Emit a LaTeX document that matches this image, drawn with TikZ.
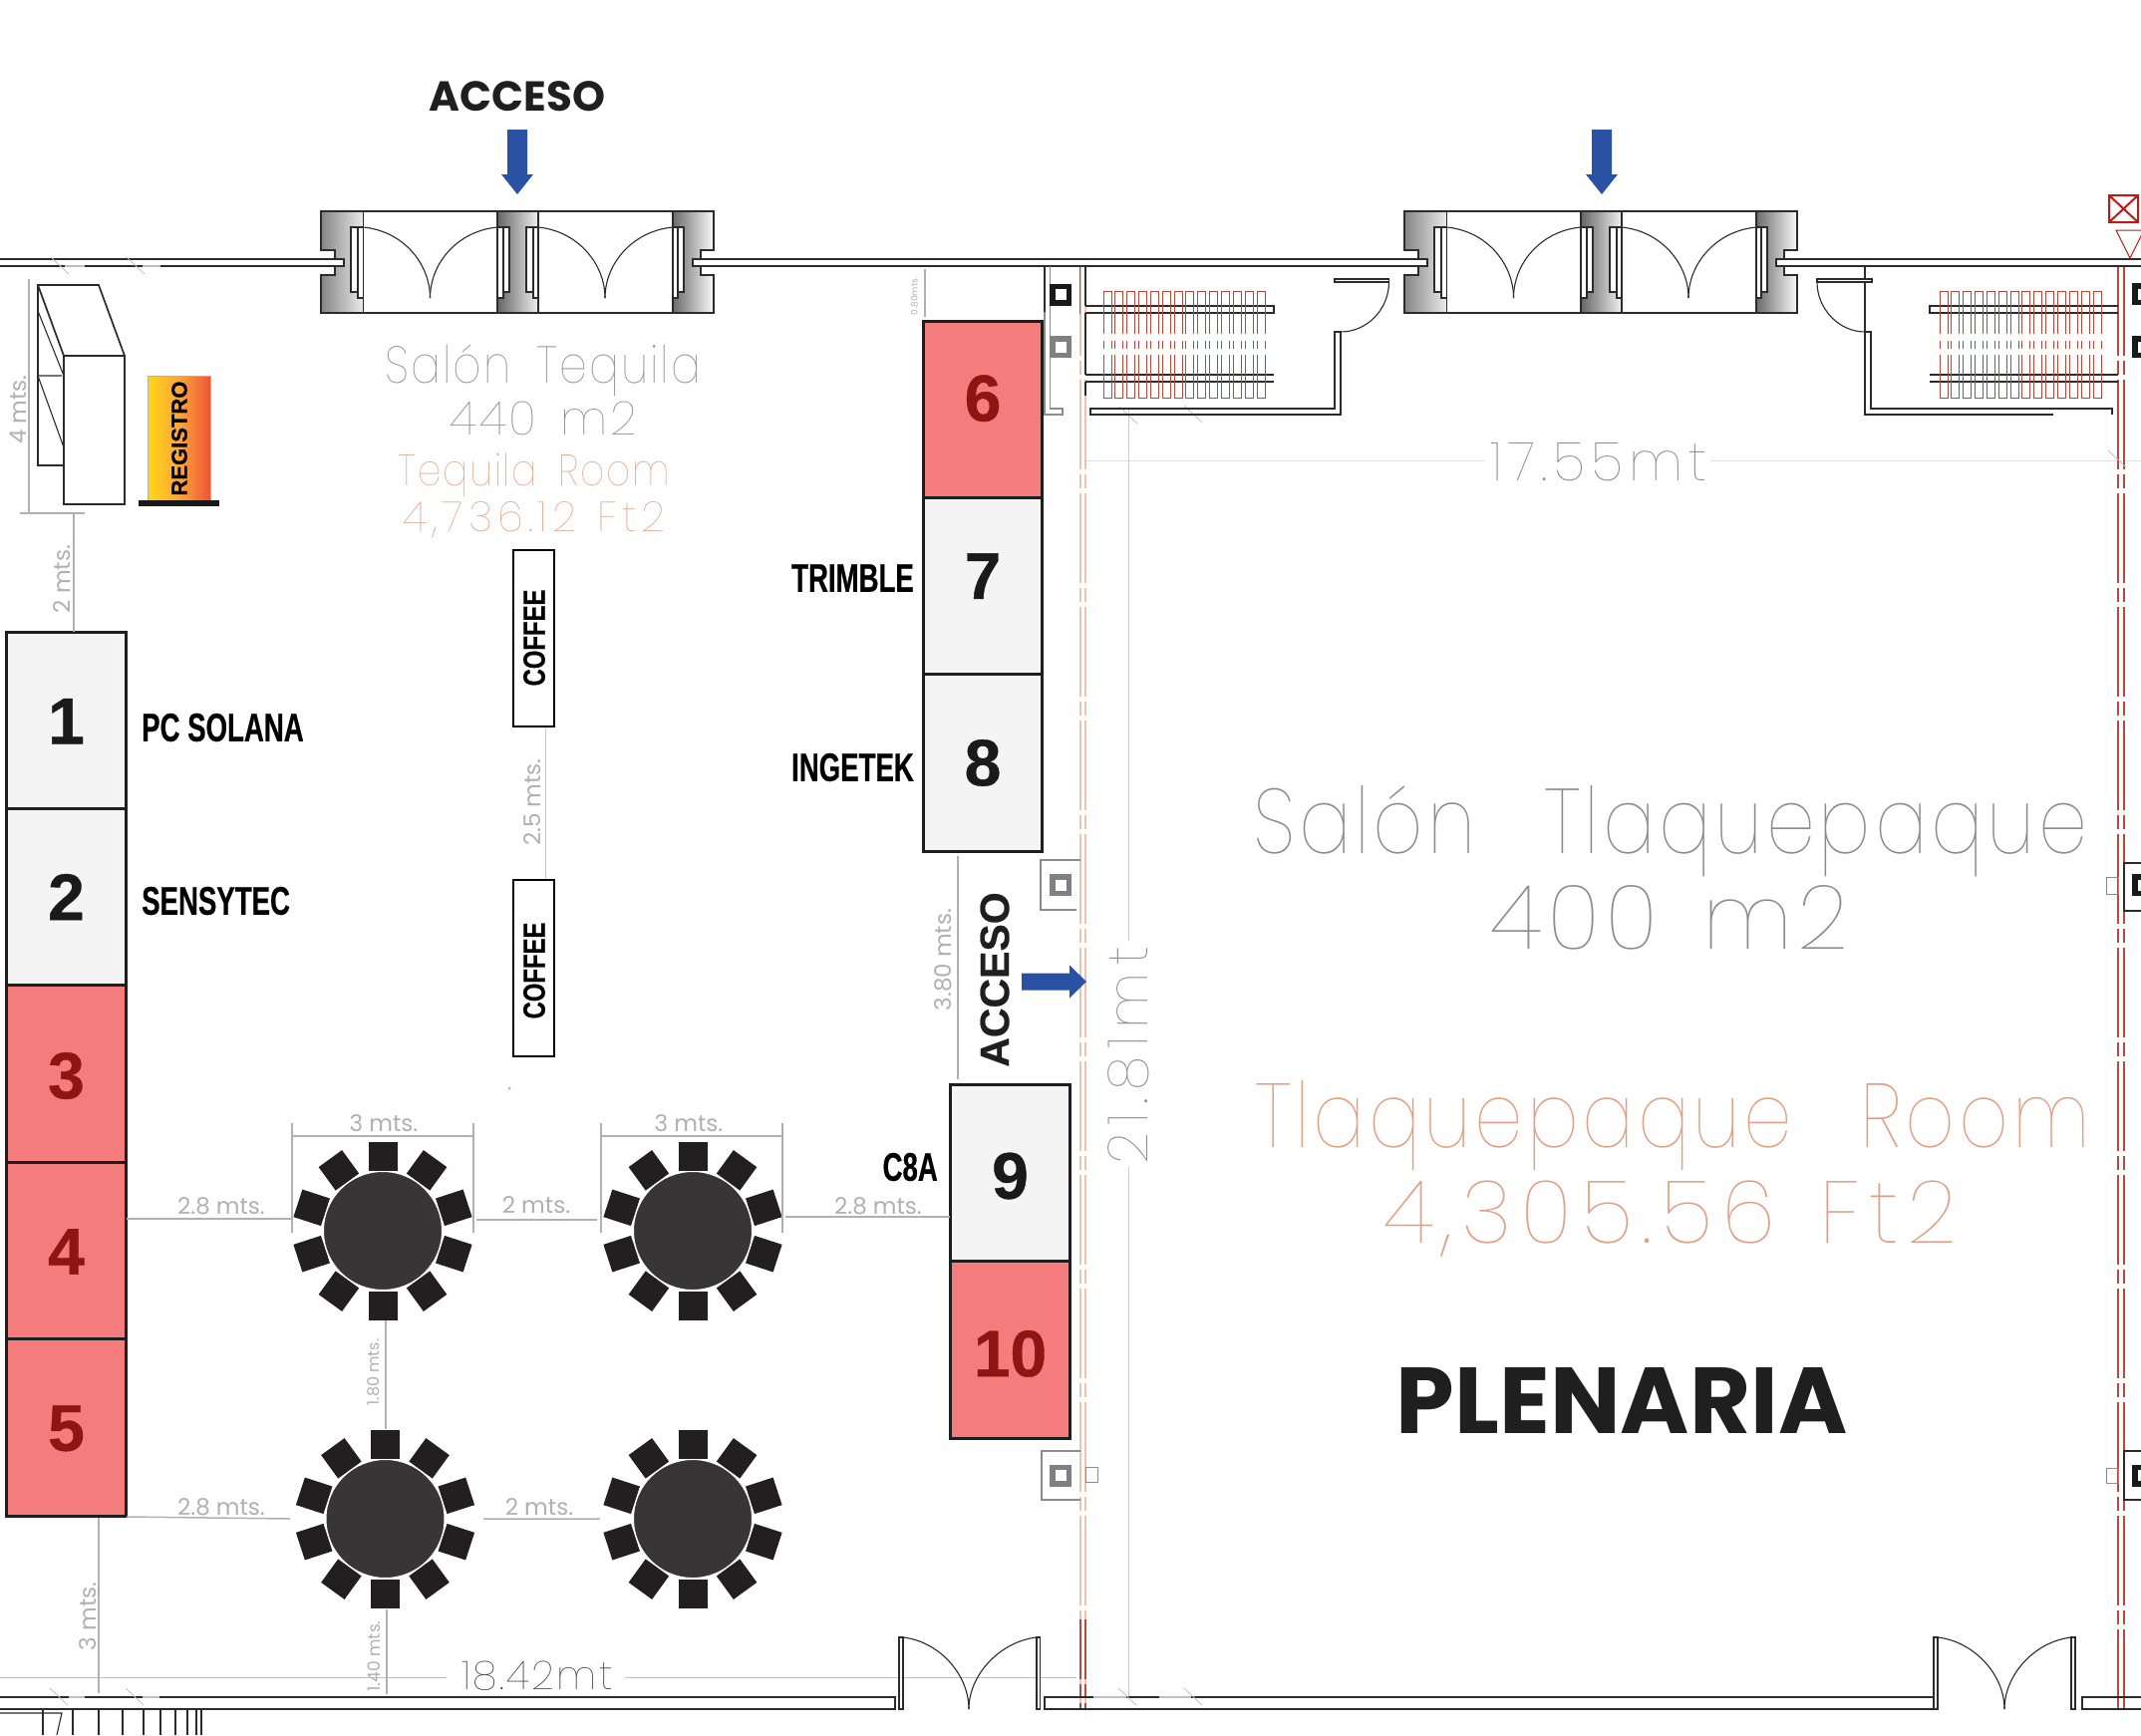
\documentclass[tikz,border=0pt]{standalone}
\usepackage{fontspec}
\usetikzlibrary{positioning,calc}
\setmainfont{Poppins}
\newfontfamily\cadfont[FakeStretch=0.85, LetterSpace=4]{Poppins Thin}
\newfontfamily\cadnum[LetterSpace=6]{Poppins Thin}
\newfontfamily\armfont{Liberation Sans}
\newfontfamily\heavyfont[BoldFeatures={FakeBold=0.6}]{Liberation Sans}
\newfontfamily\narrowfont[FakeStretch=0.69, BoldFeatures={FakeBold=0.5}]{Liberation Sans}
\newfontfamily\coffeefont[FakeStretch=0.77, BoldFeatures={FakeBold=0.5}]{Liberation Sans}
\newcommand{\wgap}{\hspace{.5em}}
\newcommand{\widegap}{\hspace{.75em}}

\definecolor{salmonfill}{HTML}{F47C7C}
\definecolor{palefill}{HTML}{F4F4F4}
\definecolor{darkred}{HTML}{8F1414}
\definecolor{dimgray}{HTML}{B0B0B0}
\definecolor{roomgray}{HTML}{8C8C8C}
\definecolor{roomsalmon}{HTML}{E0A088}
\definecolor{redline}{HTML}{B9483C}
\definecolor{paleline}{HTML}{EBC4AE}
\definecolor{accessblue}{HTML}{2A52A4}
\definecolor{inkline}{HTML}{2B2B2B}
\definecolor{tablefill}{HTML}{373535}
\definecolor{chairfill}{HTML}{231F20}
\definecolor{signyellow}{HTML}{FFD814}
\definecolor{signorange}{HTML}{FBA53B}
\definecolor{signred}{HTML}{EE5533}

\tikzstyle {standbox} = [draw=inkline!70!black, line width=3pt, minimum width=119.5pt, minimum height=177.4pt, inner sep=0pt, outer sep=0pt]
\tikzstyle {standgray} = [standbox, fill=palefill]
\tikzstyle {standred} = [standbox, fill=salmonfill]
\tikzstyle {digit} = [inner sep=0pt, text=inkline!60!black, font=\heavyfont\bfseries\fontsize{66}{66}\selectfont]
\tikzstyle {digitred} = [digit, text=darkred]
\tikzstyle {brand} = [font=\narrowfont\bfseries\fontsize{40}{40}\selectfont, text=black, inner sep=0pt]
\tikzstyle {coffeebox} = [draw=black, fill=white, line width=2pt, minimum width=41pt, minimum height=177pt, inner sep=0pt]
\tikzstyle {coffeetext} = [rotate=90, font=\coffeefont\bfseries\fontsize{31}{31}\selectfont, text=black, inner sep=0pt]
\tikzstyle {dimline} = [draw=dimgray, line width=1.5pt]
\tikzstyle {dimtext} = [text=dimgray, inner sep=0pt, font=\fontsize{23}{23}\selectfont]
\tikzstyle {wallline} = [draw=inkline, line width=1.7pt]
\tikzstyle {thinline} = [draw=inkline, line width=1.1pt]
\tikzstyle {roomtext} = [anchor=base, inner sep=0pt, text=roomgray]
\tikzstyle {roompink} = [anchor=base, inner sep=0pt, text=roomsalmon]
\tikzstyle {tabletop} = [circle, fill=tablefill, draw=white, line width=1pt, minimum size=119pt, inner sep=0pt]
\tikzstyle {chair} = [fill=chairfill, minimum size=29pt, inner sep=0pt]
\tikzstyle {pillarbox} = [minimum size=22pt, inner sep=0pt]
\tikzstyle {pillarhole} = [fill=white, minimum size=11pt, inner sep=0pt]
\tikzstyle {seat} = [draw=redline, line width=1pt]
\tikzstyle {tick} = [draw=black!25, line width=.8pt]

\newcommand{\doublegate}[1]{
    \begin{scope}[xshift=#1]
        \shade [left color=black!48, right color=black!8, draw=inkline, line width=1.2pt] (322,212) -- (364.5,212) -- (364.5,314) -- (322,314) -- (322,276) -- (336,276) -- (336,267) -- (345,267) -- (345,260) -- (336,260) -- (336,251) -- (322,251) -- cycle;
        \shade [left color=black!60, right color=black!6, draw=inkline, line width=1.2pt] (499,212) -- (540,212) -- (540,314) -- (499,314) -- cycle;
        \shade [left color=black!58, right color=black!2, draw=inkline, line width=1.2pt] (675,212) -- (716,212) -- (716,251) -- (703,251) -- (703,260) -- (695,260) -- (695,267) -- (703,267) -- (703,276) -- (716,276) -- (716,314) -- (675,314) -- cycle;
        \draw [thinline] (364.5,212) -- (499,212) (364.5,314) -- (499,314) (540,212) -- (675,212) (540,314) -- (675,314);
        \filldraw [thinline, fill=white] (364.5,228) -- (352,228) -- (352,293) -- (359,293) -- (359,299) -- (364.5,299) -- cycle;
        \filldraw [thinline, fill=white] (499,228) -- (511,228) -- (511,293) -- (505,293) -- (505,299) -- (499,299) -- cycle;
        \filldraw [thinline, fill=white] (540,228) -- (528,228) -- (528,293) -- (535,293) -- (535,299) -- (540,299) -- cycle;
        \filldraw [thinline, fill=white] (675,228) -- (686,228) -- (686,293) -- (680,293) -- (680,299) -- (675,299) -- cycle;
        \draw [thinline] (359,228) -- (359,293) (505,228) -- (505,293) (535,228) -- (535,293) (680,228) -- (680,293);
        \draw [thinline] (364.5,228) .. controls (405,232) and (431.5,265) .. (431.5,299);
        \draw [thinline] (499,228) .. controls (458,232) and (431.5,265) .. (431.5,299);
        \draw [thinline] (540,228) .. controls (580,232) and (607,265) .. (607,299);
        \draw [thinline] (675,228) .. controls (634,232) and (607,265) .. (607,299);
    \end{scope}
}
\newcommand{\swingdoors}[5]{
    \filldraw [thinline, fill=white] (#1,1643) rectangle (#2,1715);
    \filldraw [thinline, fill=white] (#4,1643) rectangle (#5,1715);
    \draw [thinline] (#2,1643) .. controls (#2+36,1647) and (#3,1680) .. (#3,1715);
    \draw [thinline] (#4,1643) .. controls (#4-36,1647) and (#3,1680) .. (#3,1715);
}
\newcommand{\seatrows}[1]{
    \foreach \i in {0,...,13} {
        \begin{scope}[xshift=#1+\i*11.85pt]
            \draw [seat] (0,335) -- (0,292) -- (8,292) -- (8,335);
            \draw [seat] (0,342) -- (0,350) (8,342) -- (8,350);
            \draw [seat] (0,356) -- (0,399) -- (8,399) -- (8,356);
        \end{scope}
    }
}
\newcommand{\roundtable}[2]{
    \foreach \a in {90,54,18,-18,-54,-90,-126,-162,162,126} {
        \node [chair, rotate=\a] (#1c\a) at ($(#2)+(\a:75pt)$) {};
    }
    \node [tabletop] (#1) at (#2) {};
}
\newcommand{\pillar}[3]{
    \node [pillarbox, fill=#3] (#1) at (#2) {};
    \node [pillarhole] (#1h) at (#1) {};
}

\begin{document}
\begin{tikzpicture}[x=1pt, y=-1pt]
    \useasboundingbox (0,0) rectangle (2148,1741);

    % room dimensions
    \draw [draw=black!12, line width=1pt] (1089,462) -- (1490,462) (1716,462) -- (2148,462);
    \draw [draw=black!20, line width=1pt] (1132,410) -- (1132,944) (1132,1171) -- (1132,1703);
    \draw [draw=black!25, line width=1pt] (0,1683) -- (448,1683) (627,1683) -- (1080,1683);

    % partitions
    \foreach \wx in {1084,1089} {
        \draw [draw=paleline, line width=1.5pt, dash pattern=on 90pt off 5pt on 14pt off 5pt] (\wx,267) -- (\wx,1715);
        \draw [draw=redline, line width=1.1pt, dash pattern=on 60pt off 5pt on 14pt off 5pt] (\wx,1625) -- (\wx,1715);
    }
    \draw [draw=redline, line width=1.3pt] (1083.5,267) -- (1083.5,315);
    \foreach \wx in {2125,2131} {
        \draw [draw=redline, line width=1.4pt, dash pattern=on 90pt off 5pt on 14pt off 5pt] (\wx,267) -- (\wx,1715);
    }

    % walls
    \draw [wallline] (0,260) -- (345,260) (0,267) -- (345,267);
    \draw [wallline] (695,260) -- (1432,260) (695,267) -- (1432,267);
    \draw [wallline] (1782,260) -- (2148,260) (1782,267) -- (2148,267);
    \doublegate{0}
    \doublegate{1087}
    \draw [wallline] (0,1703) -- (898,1703) -- (898,1715) -- (0,1715);
    \draw [wallline] (2148,1703) -- (2089,1703) -- (2089,1715) -- (2148,1715);
    \draw [wallline] (1939,1703) -- (1048,1703) -- (1048,1715) -- (1939,1715);
    \swingdoors{902}{906}{972}{1040}{1043.5}
    \swingdoors{1940}{1944}{2011}{2078}{2082}
    \foreach \sx in {43,73,99,123,144,161,176,188,197,202} {
        \draw [thinline] (\sx,1715) -- (\sx,1741);
    }
    \draw [thinline] (0,1719) -- (62,1719) -- (57,1741);

    % wall breaks
    \foreach \bx/\by in {51/258,127/258,50/1694,126/1694,1123/408,1188/407,1122/1694,1188/1694,2115/452} {
        \draw [tick] (\bx,\by) -- ++(18,17);
    }
    \draw [draw=black!25, line width=1.6pt] (65,267) -- (85,267) (143,267) -- (161,267) (69,1703) -- (85,1703) (143,1703) -- (160,1703) (1101,416) -- (1191,416) (1097,1703) -- (1130,1703) (1163,1703) -- (1195,1703);

    % stairs and closets
    \draw [wallline] (1048,267) -- (1048,313);
    \draw [draw=black!45, line width=1.3pt] (1048,313) -- (1048,416) -- (1066,416) -- (1066,410) -- (1053.5,410) -- (1053.5,267);
    \draw [wallline] (1089,267) -- (1089,307) (1089,314) -- (1089,376) (1089,383) -- (1089,397);
    \draw [wallline] (1089,307) -- (1278,307) -- (1278,314) -- (1089,314);
    \draw [wallline] (1089,376) -- (1278,376) (1089,383) -- (1278,383);
    \draw [wallline] (1094,410) -- (1339,410) -- (1339,333) -- (1345,333) -- (1345,416) -- (1094,416) -- cycle;
    \filldraw [thinline, fill=white] (1339,280) rectangle (1393.5,283);
    \draw [thinline] (1393.5,283) .. controls (1393.5,310) and (1372,333) .. (1345,333);
    \seatrows{1107}
    \draw [wallline] (1871,267) -- (1871,416) -- (2060,416);
    \draw [wallline] (1871,333) -- (1877,333) -- (1877,410) -- (2119,410) -- (2119,416);
    \filldraw [thinline, fill=white] (1823,280) rectangle (1878,283);
    \draw [thinline] (1823,283) .. controls (1823,310) and (1845,333) .. (1871,333);
    \draw [wallline] (2125,307) -- (1936,307) -- (1936,314) -- (2125,314);
    \draw [wallline] (2125,376) -- (1936,376) (2125,383) -- (1936,383);
    \seatrows{1946}

    % columns
    \pillar{colA}{1064,295.5}{black!90}
    \pillar{colB}{1064,348}{black!50}
    \pillar{colC}{1064,888}{black!50}
    \pillar{colD}{1064,1480.5}{black!50}
    \pillar{colE}{2150,295}{black!90}
    \pillar{colF}{2150,348}{black!90}
    \pillar{colG}{2150,888}{black!90}
    \pillar{colH}{2150,1480.5}{black!90}
    \draw [draw=black!45, line width=1.3pt] (1084,863) -- (1044,863) -- (1044,913) -- (1080,913);
    \draw [draw=black!45, line width=1.3pt] (1084,1456) -- (1045,1456) -- (1045,1505) -- (1084,1505);
    \draw [draw=black!45, line width=1pt] (1089,1472) rectangle (1101,1487);
    \draw [wallline] (2148,866) -- (2131,866) -- (2131,914) -- (2148,914);
    \draw [wallline] (2148,1456) -- (2131,1456) -- (2131,1505) -- (2148,1505);
    \draw [draw=black!45, line width=1pt] (2113,880) rectangle (2125,897);
    \draw [draw=black!45, line width=1pt] (2113,1473) rectangle (2125,1488);

    % exit sign
    \draw [draw=red!70!black!90, line width=2pt] (2116,196) rectangle (2145,223) (2116,196) -- (2145,223) (2116,223) -- (2145,196);
    \draw [draw=red!70!black!90, line width=1pt] (2123,231) -- (2151,231) -- (2137,259) -- cycle;

    % stands
    \node [standgray] (stand1) at (66.5,722.7) {};
    \node [standgray, below=0pt of stand1] (stand2) {};
    \node [standred, below=0pt of stand2] (stand3) {};
    \node [standred, below=0pt of stand3] (stand4) {};
    \node [standred, below=0pt of stand4] (stand5) {};
    \node [standred] (stand6) at (986,410.7) {};
    \node [standgray, below=0pt of stand6] (stand7) {};
    \node [standgray, below=0pt of stand7] (stand8) {};
    \node [standgray] (stand9) at (1013.5,1177) {};
    \node [standred, below=0pt of stand9] (stand10) {};

    \node [digit] (num1) at ([yshift=-1pt]stand1) {1};
    \node [digit] (num2) at (stand2) {2};
    \node [digitred] (num3) at ([yshift=-2pt]stand3) {3};
    \node [digitred] (num4) at ([yshift=-1pt]stand4) {4};
    \node [digitred] (num5) at ([yshift=-1pt]stand5) {5};
    \node [digitred] (num6) at ([yshift=11pt]stand6) {6};
    \node [digit] (num7) at ([yshift=10pt]stand7) {7};
    \node [digit] (num8) at (stand8) {8};
    \node [digit] (num9) at ([yshift=-3pt]stand9) {9};
    \node [digitred] (num10) at ([yshift=-4pt]stand10) {10};

    \node [brand, anchor=west] (solana) at (142,730) {PC SOLANA};
    \node [brand, anchor=west] (sensytec) at (142,904) {SENSYTEC};
    \node [brand, anchor=east] (trimble) at (917,580) {TRIMBLE};
    \node [brand, anchor=east] (ingetek) at (917,770) {INGETEK};
    \node [brand, anchor=east] (c8a) at (941,1171) {C8A};

    % closet and registration
    \draw [wallline] (38,286) -- (99,286) -- (125,357) -- (64,357) -- cycle;
    \draw [wallline] (64,357) rectangle (125,506);
    \draw [wallline] (38,286) -- (38,467) -- (64,467);
    \draw [thinline] (38,377) -- (62,377) (38,312) -- (64,377) (38,377) -- (64,449);
    \node [left color=signyellow, right color=signred, middle color=signorange, draw=black!30, line width=.6pt, minimum width=63pt, minimum height=125pt, inner sep=0pt] (registro) at (179.5,439.5) {};
    \node [fill=black!90, minimum width=81.5pt, minimum height=6pt, inner sep=0pt] (registrobase) at (179.7,505) {};
    \node [rotate=90, font=\heavyfont\bfseries\fontsize{22}{22}\selectfont, text=black, inner sep=0pt] (registrotext) at (180,440) {REGISTRO};

    % coffee
    \node [coffeebox] (coffeeA) at (535.5,640.5) {};
    \node [coffeetext] (coffeeAtext) at (536,640) {COFFEE};
    \node [coffeebox] (coffeeB) at (535.5,971) {};
    \node [coffeetext] (coffeeBtext) at (536,974) {COFFEE};
    \draw [dimline, draw=black!22] ([xshift=12pt]coffeeA.south) -- ([xshift=12pt]coffeeB.north);
    \fill [red!40!orange!60] (511,1092) circle (1.5);

    % tables
    \roundtable{tableA}{384,1235}
    \roundtable{tableB}{695,1235}
    \roundtable{tableC}{386.5,1524}
    \roundtable{tableD}{695,1524}

    % measures
    \draw [dimline] (29,280) -- (29,515) (20,515) -- (85,515);
    \draw [dimline] (74,515) -- (74,634);
    \draw [dimline] (293,1127) -- (293,1237) (293,1140) -- (475,1140) (475,1127) -- (475,1237);
    \draw [dimline] (603,1127) -- (603,1237) (603,1140) -- (785,1140) (785,1127) -- (785,1237);
    \draw [dimline] (127,1223) -- (293,1223) (478,1224) -- (599,1224) (788,1221) -- (953,1221);
    \draw [dimline] (127,1522) -- (291,1524) (485,1524) -- (602,1524);
    \draw [dimline] (387,1325) -- (387,1434);
    \draw [dimline] (388,1615) -- (388,1700) (99,1523) -- (99,1699) (961,859) -- (961,1083) (928,270) -- (928,318);

    \node [dimtext, rotate=90] (dimclosetA) at (18.5,411) {4 mts.};
    \node [dimtext, rotate=90] (dimclosetB) at (62,581) {2 mts.};
    \node [dimtext, rotate=90] (dimcoffee) at (534,805) {2.5 mts.};
    \node [dimtext] (dimtableA) at (385,1127) {3 mts.};
    \node [dimtext] (dimtableB) at (691,1127) {3 mts.};
    \node [dimtext] (dimleftA) at (222,1210) {2.8 mts.};
    \node [dimtext] (dimmidA) at (538,1209) {2 mts.};
    \node [dimtext] (dimrightA) at (881,1210) {2.8 mts.};
    \node [dimtext] (dimleftB) at (222,1512) {2.8 mts.};
    \node [dimtext] (dimmidB) at (541,1512) {2 mts.};
    \node [dimtext, rotate=90, font=\fontsize{16}{16}\selectfont] (dimrowA) at (375,1377) {1.80 mts.};
    \node [dimtext, rotate=90, font=\fontsize{17}{17}\selectfont] (dimrowB) at (375.5,1662) {1.40 mts.};
    \node [dimtext, rotate=90] (dimbottom) at (88.5,1622) {3 mts.};
    \node [dimtext, rotate=90] (dimaccess) at (946,963) {3.80 mts.};
    \node [dimtext, rotate=90, font=\fontsize{9}{9}\selectfont] (dimtop) at (917.5,297) {0.80mts.};

    % room names
    \node [roomtext, font=\cadfont\fontsize{52}{52}\selectfont] (tequilaA) at (545,384) {Salón\wgap Tequila};
    \node [roomtext, font=\cadnum\fontsize{47}{47}\selectfont] (tequilaB) at (545,436) {440\wgap m2};
    \node [roompink, font=\cadfont\fontsize{44}{44}\selectfont] (tequilaC) at (536,487) {Tequila\wgap Room};
    \node [roompink, font=\cadnum\fontsize{42}{42}\selectfont\addfontfeature{LetterSpace=12}] (tequilaD) at (536,533) {4,736.12\wgap Ft2};
    \node [roomtext, font=\cadfont\fontsize{92}{92}\selectfont] (tlaqA) at (1676,856) {Salón\widegap Tlaquepaque};
    \node [roomtext, font=\cadnum\fontsize{90}{90}\selectfont] (tlaqB) at (1675,952) {400\wgap m2};
    \node [roompink, font=\cadfont\fontsize{91}{91}\selectfont] (tlaqC) at (1678,1151) {Tlaquepaque\widegap Room};
    \node [roompink, font=\cadnum\fontsize{88}{88}\selectfont\addfontfeature{LetterSpace=10}] (tlaqD) at (1676,1247) {4,305.56\wgap Ft2};
    \node [roomtext, font=\cadnum\fontsize{54}{54}\selectfont\addfontfeature{LetterSpace=11}] (width) at (1604,482) {17.55mt};
    \node [roomtext, anchor=center, rotate=90, font=\cadnum\fontsize{56}{56}\selectfont\addfontfeature{LetterSpace=14}] (height) at (1132,1059) {21.81mt};
    \node [roomtext, text=black!80, font=\cadnum\fontsize{40}{40}\selectfont] (length) at (539,1695) {18.42mt};
    \node [anchor=base, inner sep=0pt, text=black!88, font=\bfseries\fontsize{94}{94}\selectfont] (plenaria) at (1627,1438) {PLENARIA};

    % access
    \node [anchor=base, inner sep=0pt, text=black!88, font=\bfseries\fontsize{42}{42}\selectfont] (accesstop) at (519,111) {ACCESO};
    \node [rotate=90, inner sep=0pt, text=black!88, font=\heavyfont\bfseries\fontsize{41}{41}\selectfont] (accessside) at (998,983) {ACCESO};
    \fill [accessblue] (509,130) -- (529,130) -- (529,175) -- (535,175) -- (519,195) -- (503,175) -- (509,175) -- cycle;
    \fill [accessblue] (1597,130) -- (1617,130) -- (1617,175) -- (1623,175) -- (1607,195) -- (1591,175) -- (1597,175) -- cycle;
    \fill [accessblue] (1025,976.5) -- (1073,976.5) -- (1073,968.5) -- (1090,985) -- (1073,1001.5) -- (1073,993.5) -- (1025,993.5) -- cycle;
\end{tikzpicture}
\end{document}
